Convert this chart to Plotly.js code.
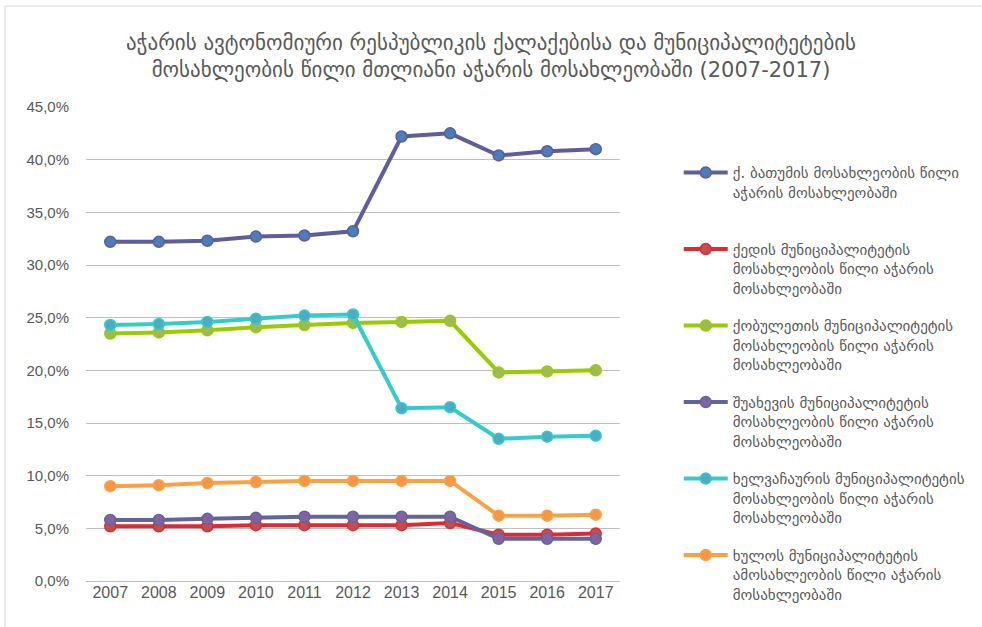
<!DOCTYPE html>
<html>
<head>
<meta charset="utf-8">
<script src="https://cdn.plot.ly/plotly-3.0.1.min.js"></script>
<style>html,body{margin:0;padding:0;background:#fff;}#chart{width:982px;height:627px;}</style>
</head>
<body>
<div id="chart"></div>
<script>
const years = ['2007','2008','2009','2010','2011','2012','2013','2014','2015','2016','2017'];
const yTickValues = [0, 5, 10, 15, 20, 25, 30, 35, 40, 45];
const yTickLabels = ['0,0%', '5,0%', '10,0%', '15,0%', '20,0%', '25,0%', '30,0%', '35,0%', '40,0%', '45,0%'];
const seriesNames = [
  'ქ. ბათუმის მოსახლეობის წილი<br>აჭარის მოსახლეობაში<br>&nbsp;',
  'ქედის მუნიციპალიტეტის<br>მოსახლეობის წილი აჭარის<br>მოსახლეობაში',
  'ქობულეთის მუნიციპალიტეტის<br>მოსახლეობის წილი აჭარის<br>მოსახლეობაში',
  'შუახევის მუნიციპალიტეტის<br>მოსახლეობის წილი აჭარის<br>მოსახლეობაში',
  'ხელვაჩაურის მუნიციპალიტეტის<br>მოსახლეობის წილი აჭარის<br>მოსახლეობაში',
  'ხულოს მუნიციპალიტეტის<br>ამოსახლეობის წილი აჭარის<br>მოსახლეობაში'
];
const batumi       = [32.2, 32.2, 32.3, 32.7, 32.8, 33.2, 42.2, 42.5, 40.4, 40.8, 41.0];
const keda         = [5.2, 5.2, 5.2, 5.3, 5.3, 5.3, 5.3, 5.5, 4.4, 4.4, 4.5];
const kobuleti     = [23.5, 23.6, 23.8, 24.1, 24.3, 24.5, 24.6, 24.7, 19.8, 19.9, 20.0];
const shuakhevi    = [5.8, 5.8, 5.9, 6.0, 6.1, 6.1, 6.1, 6.1, 4.0, 4.0, 4.0];
const khelvachauri = [24.3, 24.4, 24.6, 24.9, 25.2, 25.3, 16.4, 16.5, 13.5, 13.7, 13.8];
const khulo        = [9.0, 9.1, 9.3, 9.4, 9.5, 9.5, 9.5, 9.5, 6.2, 6.2, 6.3];

const allValues = [batumi, keda, kobuleti, shuakhevi, khelvachauri, khulo];
const lineColors = ['#5E5E9A', '#E02A33', '#99CC00', '#64649C', '#33CCCC', '#F9A243'];
const markerColors = ['#4A7EBB', '#C0504D', '#9BBB59', '#8064A2', '#4BACC6', '#F79646'];

const traces = allValues.map((v, i) => ({
  type: 'scatter',
  mode: 'lines+markers',
  x: years,
  y: v,
  name: seriesNames[i],
  legendgroup: 'g' + i,
  line: {color: lineColors[i], width: 4},
  marker: {color: markerColors[i], size: 11, line: {color: lineColors[i], width: 1.5}},
  hoverinfo: 'x+y'
}));

const gray = '#595959';
const layout = {
  width: 982, height: 627,
  paper_bgcolor: '#ffffff', plot_bgcolor: '#ffffff',
  margin: {l: 86, r: 362, t: 107, b: 46, autoexpand: false},
  font: {family: 'DejaVu Sans, Liberation Sans, sans-serif', color: gray},
  title: {
    text: 'აჭარის ავტონომიური რესპუბლიკის ქალაქებისა და მუნიციპალიტეტების<br>მოსახლეობის წილი მთლიანი აჭარის მოსახლეობაში (2007-2017)',
    font: {size: 21, color: gray, family: 'DejaVu Sans, sans-serif'},
    x: 0.5, xanchor: 'center', xref: 'container',
    y: 0.92, yanchor: 'middle', yref: 'container'
  },
  xaxis: {
    type: 'category',
    range: [-0.5, years.length - 0.5],
    showgrid: false, zeroline: false, showline: false,
    ticks: '',
    tickfont: {size: 16, color: gray, family: 'Liberation Sans, sans-serif'}
  },
  yaxis: {
    range: [0, 45],
    tickvals: yTickValues,
    ticktext: yTickLabels,
    showgrid: true, gridcolor: '#BFBFBF', gridwidth: 1,
    zeroline: true, zerolinecolor: '#BFBFBF', zerolinewidth: 1,
    showline: false, ticks: '',
    ticklabelstandoff: 16,
    tickfont: {size: 15, color: gray, family: 'Liberation Sans, sans-serif'}
  },
  legend: {
    x: 1.11, xanchor: 'left',
    y: 0.896, yanchor: 'top',
    valign: 'top',
    itemwidth: 44,
    tracegroupgap: 15,
    maxheight: 620,
    font: {size: 15, color: gray, family: 'DejaVu Sans, sans-serif'},
    bgcolor: 'rgba(0,0,0,0)'
  },
  showlegend: true,
  shapes: [{
    type: 'rect', xref: 'paper', yref: 'paper',
    x0: -81/534, x1: 2, y0: -1, y1: (581-6)/474,
    line: {color: '#D9D9D9', width: 1}, fillcolor: 'rgba(0,0,0,0)', layer: 'below'
  }]
};

Plotly.newPlot('chart', traces, layout, {displayModeBar: false, staticPlot: true});
</script>
</body>
</html>
